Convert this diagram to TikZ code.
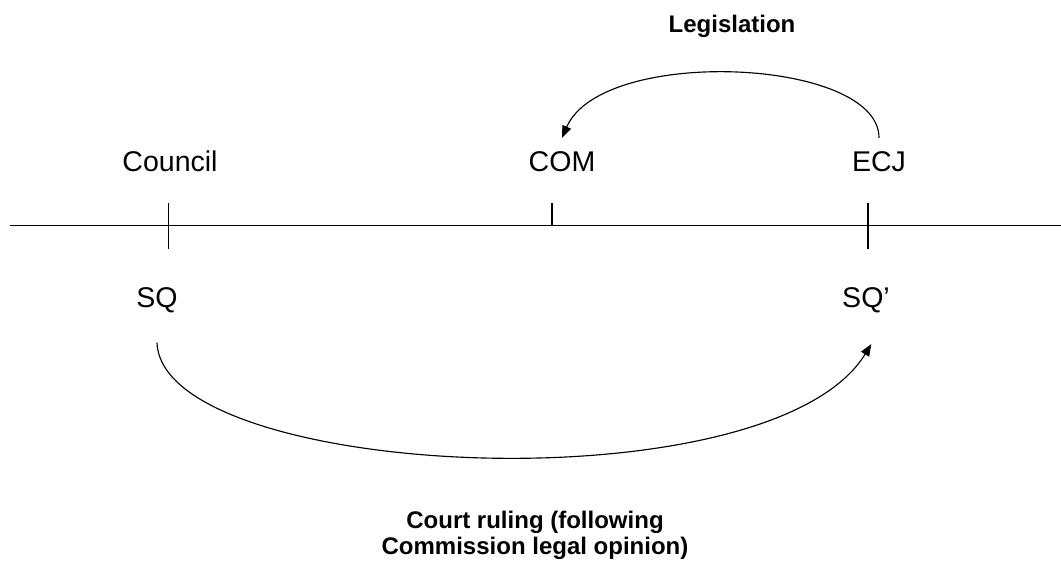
\documentclass[tikz,border=0pt]{standalone}
\usepackage{fontspec}
\setmainfont{Liberation Sans}
\usetikzlibrary{arrows.meta}
\begin{document}
\begin{tikzpicture}[x=0.75pt,y=-0.75pt,
  actor/.style={font=\fontsize{21.4pt}{25pt}\selectfont, inner sep=10.5pt, anchor=base},
  caption/.style={font=\fontsize{18pt}{19.5pt}\selectfont\bfseries, inner sep=0pt, align=center},
  axis/.style={line width=1.1pt},
  tickline/.style={line width=1.1pt},
  flow/.style={line width=0.85pt, -{Triangle[length=9pt,width=7pt]}}]
\useasboundingbox (0,0) rectangle (1061,563);
% axis
\coordinate (a0) at (10,225.5);
\coordinate (a1) at (1061,225.5);
\draw[axis] (a0) -- (a1);
\draw[tickline] (168.5,203) -- (168.5,249);
\draw[tickline] (552,203) -- (552,225.5);
\draw[tickline] (868,203) -- (868,249);
% labels
\node[actor] (council) at (170,172) {Council};
\node[actor] (com) at (562,172) {COM};
\node[actor] (ecj) at (879,172) {ECJ};
\node[actor] (sq) at (157,307) {SQ};
\node[actor] (sqp) at (866,307) {SQ’};
\node[caption, anchor=base] (leg) at (732,33) {Legislation};
\node[caption, anchor=north] (court) at (535,511) {Court ruling (following\\Commission legal opinion)};
% arrows
\draw[flow] (ecj.north) .. controls +(0,-80) and +(40,-92) .. (com.north);
\draw[flow] ([yshift=-12pt]sq.south) .. controls +(5,137) and +(-101,165) .. ([xshift=4pt,yshift=-13pt]sqp.south);
\end{tikzpicture}
\end{document}
